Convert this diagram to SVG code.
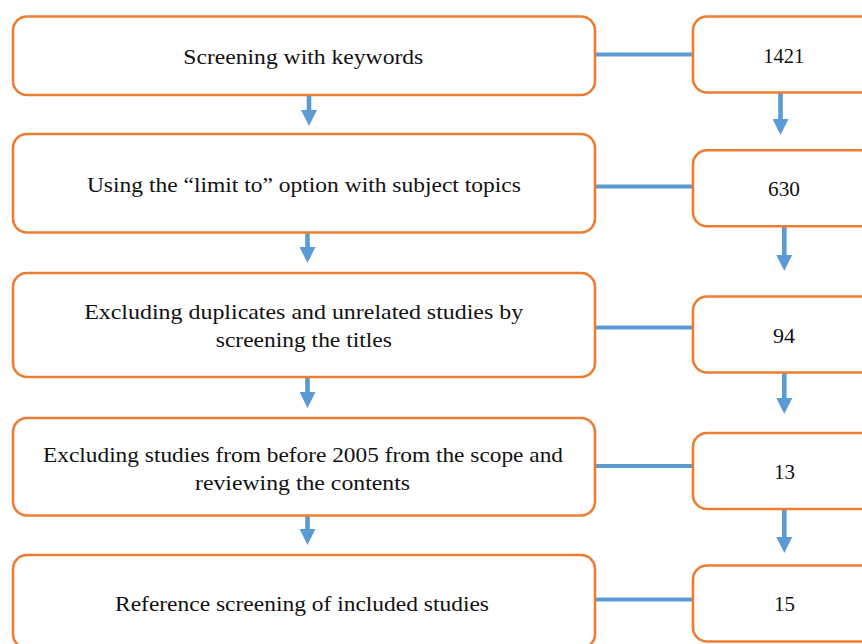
<svg xmlns="http://www.w3.org/2000/svg" width="862" height="644" viewBox="0 0 862 644">
<style>
.box{fill:#fff;stroke:#ED7D31;stroke-width:2.6}
.t{font-family:"Liberation Serif","Times New Roman",serif;font-size:22px;fill:#111;text-anchor:middle}
.c{stroke:#5B9BD5;stroke-width:4;fill:none}
.a{stroke:#5B9BD5;stroke-width:4.6;fill:none;marker-end:url(#ah)}
</style>
<defs>
<marker id="ah" markerUnits="userSpaceOnUse" markerWidth="16" markerHeight="16" viewBox="0 0 16 16" refX="1" refY="8" orient="auto">
<path d="M0,0 L16,8 L0,16 z" fill="#5B9BD5"/>
</marker>
</defs>
<rect width="862" height="644" fill="#fff"/>
<g id="connectors">
<line class="c" x1="595" y1="54.5" x2="693" y2="54.5"/>
<line class="c" x1="595" y1="186.5" x2="693" y2="186.5"/>
<line class="c" x1="595" y1="327.5" x2="693" y2="327.5"/>
<line class="c" x1="595" y1="466" x2="693" y2="466"/>
<line class="c" x1="595" y1="599.5" x2="693" y2="599.5"/>
<line class="a" x1="309" y1="95" x2="309" y2="111"/>
<line class="a" x1="307.5" y1="233" x2="307.5" y2="248"/>
<line class="a" x1="307.5" y1="377" x2="307.5" y2="393"/>
<line class="a" x1="307.5" y1="516" x2="307.5" y2="530"/>
<line class="a" x1="780.5" y1="92" x2="780.5" y2="120"/>
<line class="a" x1="784.3" y1="226" x2="784.3" y2="256"/>
<line class="a" x1="784.3" y1="372" x2="784.3" y2="399"/>
<line class="a" x1="784.3" y1="509" x2="784.3" y2="538"/>
</g>
<g id="step1">
<rect class="box" x="13" y="16.5" width="582" height="78.5" rx="14"/>
<text class="t" x="303.3" y="64.3" textLength="240" lengthAdjust="spacingAndGlyphs">Screening with keywords</text>
</g>
<g id="step2">
<rect class="box" x="13" y="134" width="582" height="98.5" rx="14"/>
<text class="t" x="303.9" y="191.7" textLength="434" lengthAdjust="spacingAndGlyphs">Using the “limit to” option with subject topics</text>
</g>
<g id="step3">
<rect class="box" x="13" y="273" width="582" height="104" rx="14"/>
<text class="t" x="303.7" y="318.5" textLength="439" lengthAdjust="spacingAndGlyphs">Excluding duplicates and unrelated studies by</text>
<text class="t" x="303.8" y="347" textLength="176" lengthAdjust="spacingAndGlyphs">screening the titles</text>
</g>
<g id="step4">
<rect class="box" x="13" y="418" width="582" height="97.5" rx="14"/>
<text class="t" x="303" y="461.5" textLength="520" lengthAdjust="spacingAndGlyphs">Excluding studies from before 2005 from the scope and</text>
<text class="t" x="302.5" y="490" textLength="215" lengthAdjust="spacingAndGlyphs">reviewing the contents</text>
</g>
<g id="step5">
<rect class="box" x="13" y="555" width="582" height="93" rx="14"/>
<text class="t" x="302" y="611" textLength="374" lengthAdjust="spacingAndGlyphs">Reference screening of included studies</text>
</g>
<g id="count1">
<rect class="box" x="693" y="16.5" width="182" height="76" rx="14"/>
<text class="t" x="783.7" y="63.3" textLength="41" lengthAdjust="spacingAndGlyphs">1421</text>
</g>
<g id="count2">
<rect class="box" x="693" y="150.3" width="182" height="76" rx="14"/>
<text class="t" x="784" y="196" textLength="32" lengthAdjust="spacingAndGlyphs">630</text>
</g>
<g id="count3">
<rect class="box" x="693" y="296.5" width="182" height="76" rx="14"/>
<text class="t" x="784" y="343.3" textLength="22" lengthAdjust="spacingAndGlyphs">94</text>
</g>
<g id="count4">
<rect class="box" x="693" y="433" width="182" height="76" rx="14"/>
<text class="t" x="784.5" y="479" textLength="21" lengthAdjust="spacingAndGlyphs">13</text>
</g>
<g id="count5">
<rect class="box" x="693" y="565.5" width="182" height="76" rx="14"/>
<text class="t" x="784.5" y="611" textLength="21" lengthAdjust="spacingAndGlyphs">15</text>
</g>
</svg>
